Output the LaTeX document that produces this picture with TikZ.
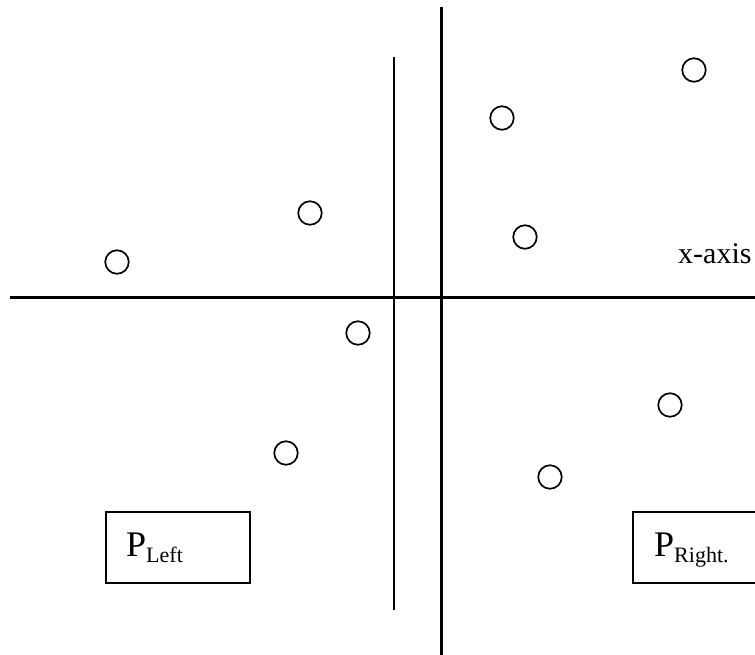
\documentclass[tikz,border=0pt]{standalone}
\usepackage{fontspec}
\setmainfont{Liberation Serif}
\begin{document}
\begin{tikzpicture}[x=1pt,y=-1pt,
  dot/.style={circle, draw, line width=1.7pt, minimum size=23.5pt, inner sep=0pt},
  axisline/.style={line width=2.2pt},
  framebox/.style={draw, line width=2pt, inner sep=0pt},
  label/.style={inner sep=0pt, anchor=base west},
  bigtext/.style={font=\fontsize{36}{40}\selectfont},
  axistext/.style={font=\fontsize{30}{34}\selectfont}]
\useasboundingbox (0,0) rectangle (755,654);
\clip (0,0) rectangle (755,654);

% axes
\coordinate (hl) at (10,297.5);
\coordinate (hr) at (760,297.5);
\coordinate (vt) at (441.5,7);
\coordinate (vb) at (441.5,660);
\coordinate (st) at (394,57);
\coordinate (sb) at (394,610);
\draw[axisline] (hl) -- (hr);
\draw[axisline] (vt) -- (vb);
\draw[axisline] (st) -- (sb);

% points
\node[dot] (p1) at (117,262) {};
\node[dot] (p2) at (310,213) {};
\node[dot] (p3) at (358,333) {};
\node[dot] (p4) at (286,453) {};
\node[dot] (p5) at (502,118) {};
\node[dot] (p6) at (694,70) {};
\node[dot] (p7) at (525,237) {};
\node[dot] (p8) at (670,405) {};
\node[dot] (p9) at (550,477) {};

% axis label
\node[label, axistext] (xaxis) at (678,263) {x-axis};

% partition boxes
\node[framebox, minimum width=144pt, minimum height=71pt] (leftbox) at (178,547.5) {};
\node[framebox, minimum width=130pt, minimum height=71pt] (rightbox) at (698,547.5) {};
\node[label, bigtext] (pleft) at (126,556)
  {P\raisebox{-6pt}{\fontsize{22}{26}\selectfont Left}};
\node[label, bigtext] (pright) at (654,556)
  {P\raisebox{-6pt}{\fontsize{22}{26}\selectfont Right.}};
\end{tikzpicture}
\end{document}
